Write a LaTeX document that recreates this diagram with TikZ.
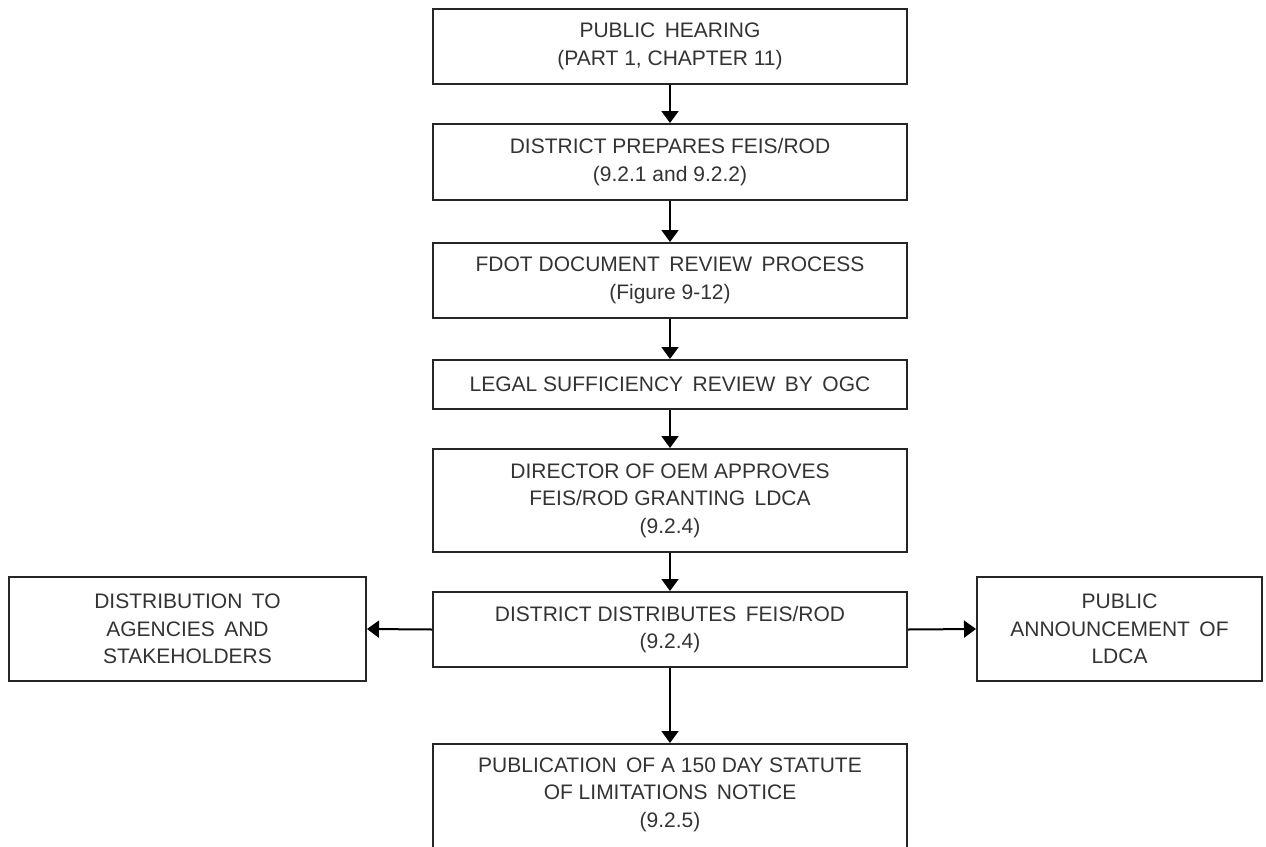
\documentclass[tikz,border=0pt]{standalone}
\usepackage{fontspec}
\setmainfont{Liberation Sans}
\usetikzlibrary{arrows.meta}
\newcommand{\wsp}{\hspace{0.45em}}
\begin{document}
\begin{tikzpicture}[x=1pt,y=-1pt,
  boxfr/.style={draw=black!85, line width=2pt, inner sep=0pt},
  box/.style={boxfr, align=center, font=\fontsize{21}{27.5}\selectfont, text=black!80},
  txt/.style={align=center, inner sep=0pt, font=\fontsize{21}{27.5}\selectfont, text=black!80},
  arr/.style={line width=2pt, draw=black, -{Triangle[width=17pt,length=12pt]}}]
\useasboundingbox (0,0) rectangle (1266,846);
\clip (0,0) rectangle (1266,846);
\node[box, minimum width=474pt, minimum height=75pt] (n1) at (670,46.5) {PUBLIC\wsp HEARING\\(PART 1, CHAPTER 11)};
\node[box, minimum width=474pt, minimum height=76pt] (n2) at (670,162) {DISTRICT PREPARES FEIS/ROD\\(9.2.1 and 9.2.2)};
\node[box, minimum width=474pt, minimum height=75pt] (n3) at (670,280.5) {FDOT DOCUMENT\wsp REVIEW\wsp PROCESS\\(Figure 9-12)};
\node[box, minimum width=474pt, minimum height=49pt] (n4) at (670,384.5) {LEGAL SUFFICIENCY\wsp REVIEW\wsp BY\wsp OGC};
\node[box, minimum width=474pt, minimum height=103pt] (n5) at (670,500.5) {DIRECTOR OF OEM APPROVES\\FEIS/ROD GRANTING\wsp LDCA\\(9.2.4)};
\node[box, minimum width=474pt, minimum height=75pt] (n6) at (670,629.5) {DISTRICT DISTRIBUTES\wsp FEIS/ROD\\(9.2.4)};
\node[box, minimum width=357pt, minimum height=104pt] (n7) at (187.5,629) {DISTRIBUTION\wsp TO\\AGENCIES\wsp AND\\STAKEHOLDERS};
\node[box, minimum width=285pt, minimum height=104pt] (n8) at (1119.5,629) {PUBLIC\\ANNOUNCEMENT\wsp OF\\LDCA};
\node[boxfr, minimum width=474pt, minimum height=140pt, anchor=north] (n9) at (670,743) {};
\node[txt] (n9t) at (670,794.5) {PUBLICATION\wsp OF A 150 DAY STATUTE\\OF LIMITATIONS\wsp NOTICE\\(9.2.5)};
\draw[arr] (n1) -- (n2);
\draw[arr] (n2) -- (n3);
\draw[arr] (n3) -- (n4);
\draw[arr] (n4) -- (n5);
\draw[arr] (n5) -- (n6);
\draw[arr] (n6) -- (n9);
\draw[arr] (n6.west) -- (n7.east);
\draw[arr] (n6.east) -- (n8.west);
\end{tikzpicture}
\end{document}
